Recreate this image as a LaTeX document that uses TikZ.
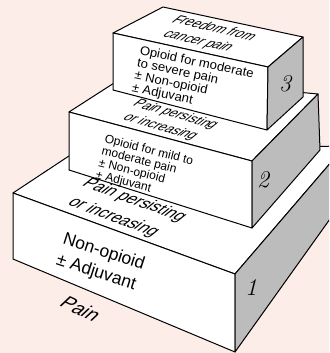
\documentclass[tikz,border=0pt]{standalone}
\usepackage{fontspec}
\newfontfamily\arial{Liberation Sans}
\definecolor{bgpink}{RGB}{253,237,233}
\definecolor{sidegray}{RGB}{188,188,188}

\tikzset{
	face/.style={fill=white, draw=black, line width=1pt, line join=round},
	side/.style={fill=sidegray, draw=black, line width=1pt, line join=round},
	fronttext/.style={inner sep=0pt, anchor=north west, align=left},
	toptext/.style={inner sep=0pt, align=center},
	stepnum/.style={inner sep=0pt, font=\itshape\fontsize{24}{24}\selectfont}
}

\begin{document}
\begin{tikzpicture}[x=1pt,y=-1pt]
	
	\fill[bgpink] (0,0) rectangle (329,353);
	\useasboundingbox (0,0) rectangle (329,353);
	\clip (0,0) rectangle (329,353);
	
	% step 1
	\coordinate (a1) at (13,193);
	\coordinate (b1) at (235,274);
	\coordinate (c1) at (235,352);
	\coordinate (d1) at (13,259);
	\coordinate (e1) at (78,150);
	\coordinate (f1) at (345,146);
	\coordinate (g1) at (345,198);
	
	\filldraw[face] (a1) -- (e1) -- (f1) -- (b1) -- cycle;
	\filldraw[face] (a1) -- (b1) -- (c1) -- (d1) -- cycle;
	\filldraw[side] (b1) -- (f1) -- (g1) -- (c1) -- cycle;
	
	% step 2
	\coordinate (a2) at (69,112);
	\coordinate (b2) at (252,161);
	\coordinate (c2) at (252,228);
	\coordinate (d2) at (69,170);
	\coordinate (e2) at (125,76);
	\coordinate (f2) at (318,94);
	\coordinate (g2) at (320,150);
	
	\filldraw[face] (a2) -- (e2) -- (f2) -- (b2) -- cycle;
	\filldraw[face] (a2) -- (b2) -- (c2) -- (d2) -- cycle;
	\filldraw[side] (b2) -- (f2) -- (g2) -- (c2) -- cycle;
	
	% step 3
	\coordinate (a3) at (113,33);
	\coordinate (b3) at (268,67);
	\coordinate (c3) at (267,130);
	\coordinate (d3) at (113,90);
	\coordinate (e3) at (163,7);
	\coordinate (f3) at (303,37);
	\coordinate (g3) at (303,97);
	
	\filldraw[face] (a3) -- (e3) -- (f3) -- (b3) -- cycle;
	\filldraw[face] (a3) -- (b3) -- (c3) -- (d3) -- cycle;
	\filldraw[side] (b3) -- (f3) -- (g3) -- (c3) -- cycle;
	
	% texts on the front faces
	\node[fronttext, rotate=-18, font=\arial\fontsize{17.5}{22}\selectfont] (front1) at (66,231) {Non-opioid\\± Adjuvant};
	\node[fronttext, rotate=-14, font=\arial\fontsize{12}{10.5}\selectfont] (front2) at (106,134) {Opioid for mild to\\moderate pain\\± Non-opioid\\± Adjuvant};
	\node[fronttext, rotate=-12, xscale=1.05, font=\arial\fontsize{12.5}{10.5}\selectfont] (front3) at (141,45) {Opioid for moderate\\to severe pain\\± Non-opioid\\± Adjuvant};
	
	% texts on the top faces
	\node[toptext, rotate=-20, xslant=0.6, font=\arial\fontsize{16}{23}\selectfont] (top1) at (124,209) {Pain persisting\\or increasing};
	\node[toptext, rotate=-16, xslant=0.7, font=\arial\fontsize{12.8}{16}\selectfont] (top2) at (168,121) {Pain persisting\\or increasing};
	\node[toptext, rotate=-13, xslant=0.8, font=\arial\fontsize{13}{16}\selectfont] (top3) at (206,35) {Freedom from\\cancer pain};
	
	% step numbers
	\node[stepnum] (num1) at (251,288) {1};
	\node[stepnum] (num2) at (263,180) {2};
	\node[stepnum] (num3) at (285,84) {3};
	
	\node[rotate=-25, xslant=0.4, inner sep=0pt, font=\arial\fontsize{19}{19}\selectfont] (pain) at (81,309) {Pain};
	
\end{tikzpicture}
\end{document}
